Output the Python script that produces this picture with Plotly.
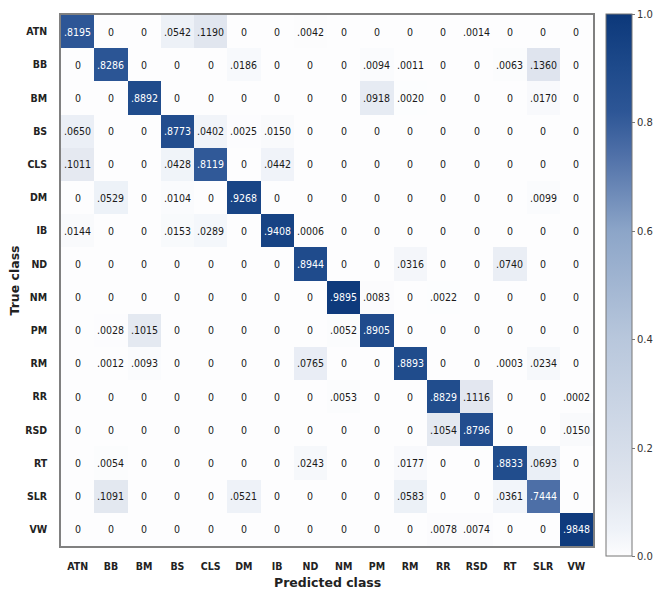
import plotly.graph_objects as go

classes = ["ATN", "BB", "BM", "BS", "CLS", "DM", "IB", "ND", "NM", "PM", "RM", "RR", "RSD", "RT", "SLR", "VW"]

row_ATN = [.8195, 0, 0, .0542, .1190, 0, 0, .0042, 0, 0, 0, 0, .0014, 0, 0, 0]
row_BB  = [0, .8286, 0, 0, 0, .0186, 0, 0, 0, .0094, .0011, 0, 0, .0063, .1360, 0]
row_BM  = [0, 0, .8892, 0, 0, 0, 0, 0, 0, .0918, .0020, 0, 0, 0, .0170, 0]
row_BS  = [.0650, 0, 0, .8773, .0402, .0025, .0150, 0, 0, 0, 0, 0, 0, 0, 0, 0]
row_CLS = [.1011, 0, 0, .0428, .8119, 0, .0442, 0, 0, 0, 0, 0, 0, 0, 0, 0]
row_DM  = [0, .0529, 0, .0104, 0, .9268, 0, 0, 0, 0, 0, 0, 0, 0, .0099, 0]
row_IB  = [.0144, 0, 0, .0153, .0289, 0, .9408, .0006, 0, 0, 0, 0, 0, 0, 0, 0]
row_ND  = [0, 0, 0, 0, 0, 0, 0, .8944, 0, 0, .0316, 0, 0, .0740, 0, 0]
row_NM  = [0, 0, 0, 0, 0, 0, 0, 0, .9895, .0083, 0, .0022, 0, 0, 0, 0]
row_PM  = [0, .0028, .1015, 0, 0, 0, 0, 0, .0052, .8905, 0, 0, 0, 0, 0, 0]
row_RM  = [0, .0012, .0093, 0, 0, 0, 0, .0765, 0, 0, .8893, 0, 0, .0003, .0234, 0]
row_RR  = [0, 0, 0, 0, 0, 0, 0, 0, .0053, 0, 0, .8829, .1116, 0, 0, .0002]
row_RSD = [0, 0, 0, 0, 0, 0, 0, 0, 0, 0, 0, .1054, .8796, 0, 0, .0150]
row_RT  = [0, .0054, 0, 0, 0, 0, 0, .0243, 0, 0, .0177, 0, 0, .8833, .0693, 0]
row_SLR = [0, .1091, 0, 0, 0, .0521, 0, 0, 0, 0, .0583, 0, 0, .0361, .7444, 0]
row_VW  = [0, 0, 0, 0, 0, 0, 0, 0, 0, 0, 0, .0078, .0074, 0, 0, .9848]

matrix = [row_ATN, row_BB, row_BM, row_BS, row_CLS, row_DM, row_IB, row_ND,
          row_NM, row_PM, row_RM, row_RR, row_RSD, row_RT, row_SLR, row_VW]

colorscale = [
    [0.0, "#fdfdfe"],
    [0.05, "#eef2f8"],
    [0.12, "#e1e6ef"],
    [0.4, "#b8c7dc"],
    [0.6, "#8ca5c8"],
    [0.74, "#4f70a8"],
    [0.82, "#2d5696"],
    [0.9, "#1e4a8b"],
    [1.0, "#0c387a"],
]

def fmt(v):
    return "0" if v == 0 else f"{v:.4f}"[1:]

fig = go.Figure(go.Heatmap(
    z=matrix, x=classes, y=classes,
    zmin=0, zmax=1, colorscale=colorscale,
    xgap=0, ygap=0,
    colorbar=dict(
        thickness=26, lenmode="pixels", len=542,
        x=1.0244, xanchor="left", xpad=0,
        y=0.4906, yanchor="middle", ypad=0,
        outlinecolor="#777777", outlinewidth=1,
        tickvals=[0, 0.2, 0.4, 0.6, 0.8, 1.0],
        ticktext=["0.0", "0.2", "0.4", "0.6", "0.8", "1.0"],
        ticks="outside", ticklen=3, tickcolor="#777777",
        tickfont=dict(family="DejaVu Sans", size=10, color="#333333"),
    ),
    hoverinfo="skip",
))

annotations = []
for i, row in enumerate(matrix):
    for j, v in enumerate(row):
        annotations.append(dict(
            x=classes[j], y=classes[i], xref="x", yref="y",
            text=fmt(v), showarrow=False,
            font=dict(family="DejaVu Sans Condensed, Liberation Sans, DejaVu Sans", size=10.5,
                      color="white" if v > 0.5 else "#1a1a1a"),
        ))

annotations.append(dict(
    text="<b>Predicted class</b>", x=0.5, y=0, xref="paper", yref="paper",
    yanchor="middle", yshift=-36, showarrow=False,
    font=dict(family="DejaVu Sans", size=12.5, color="#222222"),
))
annotations.append(dict(
    text="<b>True class</b>", x=0, y=0.5, xref="paper", yref="paper",
    xanchor="center", xshift=-47, textangle=-90, showarrow=False,
    font=dict(family="DejaVu Sans", size=12.5, color="#222222"),
))

fig.update_layout(
    width=653, height=590,
    margin=dict(l=61, r=60, t=15, b=44, autoexpand=False),
    paper_bgcolor="white", plot_bgcolor="white",
    annotations=annotations,
    xaxis=dict(
        tickfont=dict(family="DejaVu Sans Condensed, DejaVu Sans", size=10.5, color="#222222", weight="bold"),
        showline=True, mirror=True, linecolor="#808080", linewidth=1.5,
        ticks="", ticklabelstandoff=10, showgrid=False, zeroline=False,
        automargin=False,
    ),
    yaxis=dict(
        tickfont=dict(family="DejaVu Sans Condensed, DejaVu Sans", size=10.5, color="#222222", weight="bold"),
        showline=True, mirror=True, linecolor="#808080", linewidth=1.5,
        ticks="", ticklabelstandoff=10, showgrid=False, zeroline=False,
        autorange="reversed", automargin=False,
    ),
)

fig.write_html("out.html")
